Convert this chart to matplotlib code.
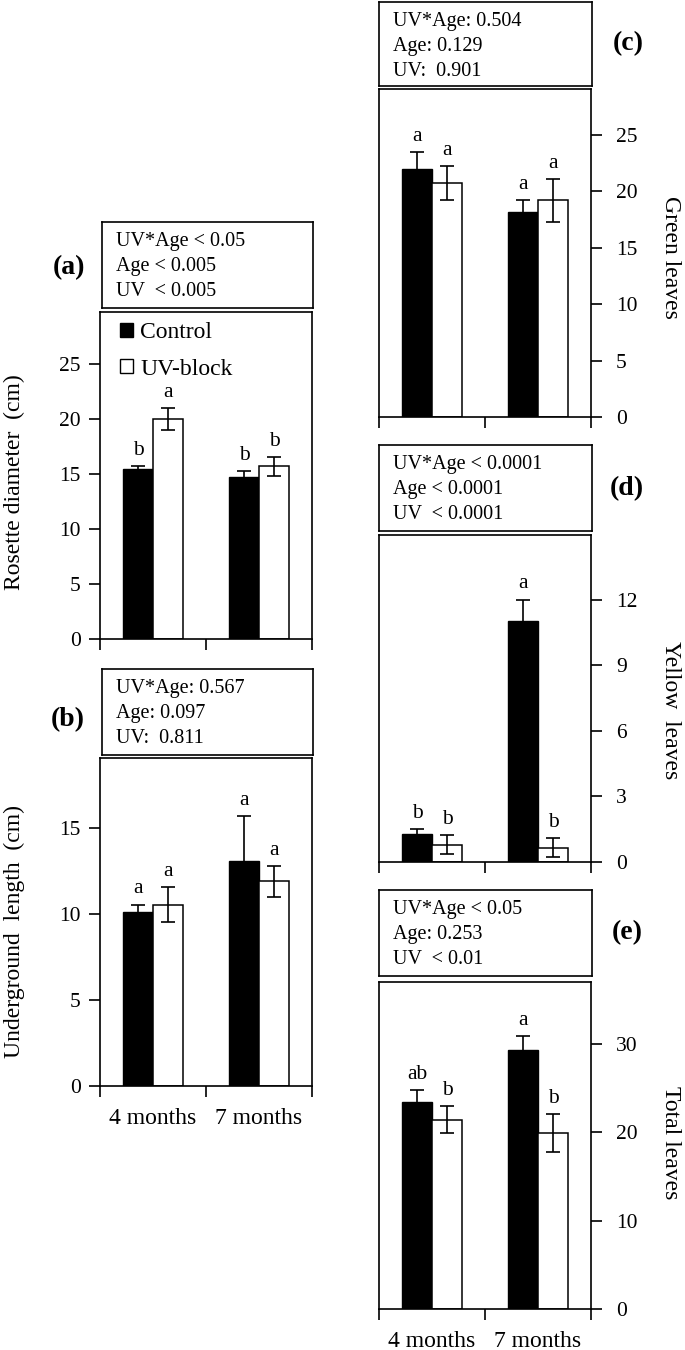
import matplotlib
matplotlib.use("Agg")
import matplotlib.pyplot as plt
from matplotlib.patches import Patch
from matplotlib.transforms import ScaledTranslation
import numpy as np

plt.rcParams['font.family'] = ['Liberation Serif', 'DejaVu Serif']
plt.rcParams['mathtext.default'] = 'regular'

# ---------------- data ----------------
groups = ["4 months", "7 months"]
series_names = ["Control", "UV-block"]

rosette_control = [15.4, 14.7]
rosette_control_err = [0.3, 0.55]
rosette_uvb = [20.0, 15.7]
rosette_uvb_err = [1.0, 0.85]
rosette_letters_control = ["b", "b"]
rosette_letters_uvb = ["a", "b"]

underground_control = [10.1, 13.1]
underground_control_err = [0.45, 2.6]
underground_uvb = [10.55, 11.9]
underground_uvb_err = [1.0, 0.9]
underground_letters_control = ["a", "a"]
underground_letters_uvb = ["a", "a"]

green_control = [22.0, 18.2]
green_control_err = [1.5, 1.0]
green_uvb = [20.7, 19.2]
green_uvb_err = [1.5, 1.9]
green_letters_control = ["a", "a"]
green_letters_uvb = ["a", "a"]

yellow_control = [1.3, 11.0]
yellow_control_err = [0.2, 1.0]
yellow_uvb = [0.8, 0.65]
yellow_uvb_err = [0.45, 0.43]
yellow_letters_control = ["b", "a"]
yellow_letters_uvb = ["b", "b"]

total_control = [23.4, 29.3]
total_control_err = [1.4, 1.6]
total_uvb = [21.4, 19.9]
total_uvb_err = [1.55, 2.15]
total_letters_control = ["ab", "a"]
total_letters_uvb = ["b", "b"]

stats_a = ["UV*Age < 0.05", "Age < 0.005", "UV  < 0.005"]
stats_b = ["UV*Age: 0.567", "Age: 0.097", "UV:  0.811"]
stats_c = ["UV*Age: 0.504", "Age: 0.129", "UV:  0.901"]
stats_d = ["UV*Age < 0.0001", "Age < 0.0001", "UV  < 0.0001"]
stats_e = ["UV*Age < 0.05", "Age: 0.253", "UV  < 0.01"]

# ---------------- layout helpers ----------------
W, H = 685, 1350
fig = plt.figure(figsize=(W / 100, H / 100), dpi=100)


def rect(l, t, r, b):
    return [l / W, 1 - b / H, (r - l) / W, (b - t) / H]


LW = 1.2
BAR_W = 0.283


def stats_box(l, t, r, b, lines):
    ax = fig.add_axes(rect(l, t, r, b))
    ax.set_xticks([])
    ax.set_yticks([])
    for s in ax.spines.values():
        s.set_linewidth(LW)
    h = b - t
    for i, line in enumerate(lines):
        y = 1 - (19.5 + 25 * i) / h
        ax.text(14 / (r - l), y, line, transform=ax.transAxes,
                ha='left', va='center', fontsize=14.5)
    return ax


def bar_panel(box, ymax, yticks, ylabel, ctrl, ctrl_err, uvb, uvb_err,
              let_c, let_u, side='left', xlabels=False, label_xy=(-0.41, 0.48)):
    ax = fig.add_axes(rect(*box))
    x = np.arange(len(groups)) + 0.5
    xc = x - BAR_W / 2
    xu = x + BAR_W / 2
    ax.bar(xc, ctrl, BAR_W, color='black', edgecolor='black', linewidth=1.0,
           yerr=ctrl_err, error_kw=dict(ecolor='black', elinewidth=1.2,
                                        capsize=5, capthick=1.2), zorder=2)
    ax.bar(xu, uvb, BAR_W, color='white', edgecolor='black', linewidth=1.1,
           yerr=uvb_err, error_kw=dict(ecolor='black', elinewidth=1.2,
                                       capsize=5, capthick=1.2), zorder=2)
    for xi, v, e, t in zip(xc, ctrl, ctrl_err, let_c):
        ax.annotate(t, (xi, v + e), xytext=(0, 8), textcoords='offset points',
                    ha='center', va='baseline', fontsize=15.5)
    for xi, v, e, t in zip(xu, uvb, uvb_err, let_u):
        ax.annotate(t, (xi, v + e), xytext=(0, 8), textcoords='offset points',
                    ha='center', va='baseline', fontsize=15.5)
    ax.set_xlim(0, len(groups))
    ax.set_ylim(0, ymax)
    ax.set_yticks(yticks)
    ax.set_xticks(np.arange(len(groups) + 1))
    ax.set_xticklabels([])
    if xlabels:
        ax.set_xticks(x, minor=True)
        ax.set_xticklabels(groups, minor=True, fontsize=17)
        shift = ScaledTranslation(-5 / 100, 0, fig.dpi_scale_trans)
        for lab in ax.get_xticklabels(minor=True):
            lab.set_transform(lab.get_transform() + shift)
    ax.tick_params(axis='x', which='major', direction='out', length=8,
                   width=LW)
    ax.tick_params(axis='x', which='minor', length=0, pad=16)
    for s in ax.spines.values():
        s.set_linewidth(LW)
    if side == 'left':
        ax.tick_params(axis='y', direction='out', length=8, width=LW,
                       labelsize=15.5, pad=6)
        ax.set_ylabel(ylabel, fontsize=17)
        ax.yaxis.label.set_rotation_mode('anchor')
        ax.yaxis.label.set_ha('center')
        ax.yaxis.label.set_va('center')
        ax.yaxis.set_label_coords(*label_xy)
    else:
        ax.yaxis.tick_right()
        ax.tick_params(axis='y', direction='out', length=8, width=LW,
                       labelsize=15.5, pad=10, left=False, right=True)
        ax.yaxis.set_label_position('right')
        ax.set_ylabel(ylabel, fontsize=17, rotation=270)
        ax.yaxis.label.set_rotation_mode('anchor')
        ax.yaxis.label.set_ha('center')
        ax.yaxis.label.set_va('center')
        ax.yaxis.set_label_coords(*label_xy)
    return ax


# ---------------- panel (a) ----------------
stats_box(102, 222, 313, 308, stats_a)
ax_a = bar_panel((100, 312, 312, 639), 29.7, [0, 5, 10, 15, 20, 25],
                 "Rosette diameter  (cm)",
                 rosette_control, rosette_control_err, rosette_uvb, rosette_uvb_err,
                 rosette_letters_control, rosette_letters_uvb,
                 side='left', label_xy=(-0.405, 0.479))
handles = [Patch(facecolor='black', edgecolor='black', linewidth=1.0),
           Patch(facecolor='white', edgecolor='black', linewidth=1.0)]
ax_a.legend(handles, series_names, loc='upper left', bbox_to_anchor=(0.094, 0.969),
            frameon=False, fontsize=17, handlelength=0.55, handleheight=0.55,
            handletextpad=0.3, labelspacing=0.66, borderaxespad=0, borderpad=0)

# ---------------- panel (b) ----------------
stats_box(102, 669, 313, 755, stats_b)
bar_panel((100, 758, 312, 1086), 19.07, [0, 5, 10, 15],
          "Underground  length  (cm)",
          underground_control, underground_control_err, underground_uvb,
          underground_uvb_err, underground_letters_control,
          underground_letters_uvb, side='left', xlabels=True,
          label_xy=(-0.405, 0.47))

# ---------------- panel (c) ----------------
stats_box(379, 2, 592, 86, stats_c)
bar_panel((379, 89, 591, 417), 29.05, [0, 5, 10, 15, 20, 25],
          "Green leaves",
          green_control, green_control_err, green_uvb, green_uvb_err,
          green_letters_control, green_letters_uvb, side='right',
          label_xy=(1.375, 0.485))

# ---------------- panel (d) ----------------
stats_box(379, 445, 592, 531, stats_d)
bar_panel((379, 535, 591, 862), 14.95, [0, 3, 6, 9, 12],
          "Yellow  leaves",
          yellow_control, yellow_control_err, yellow_uvb, yellow_uvb_err,
          yellow_letters_control, yellow_letters_uvb, side='right',
          label_xy=(1.375, 0.465))

# ---------------- panel (e) ----------------
stats_box(379, 890, 592, 976, stats_e)
bar_panel((379, 982, 591, 1309), 36.98, [0, 10, 20, 30],
          "Total leaves",
          total_control, total_control_err, total_uvb, total_uvb_err,
          total_letters_control, total_letters_uvb, side='right', xlabels=True,
          label_xy=(1.375, 0.5075))

# ---------------- panel letters ----------------
for lab, (px, py) in {"(a)": (69, 268), "(b)": (68, 720), "(c)": (628, 44),
                      "(d)": (627, 489), "(e)": (627, 933)}.items():
    fig.text(px / W, 1 - py / H, lab, ha='center', va='center',
             fontsize=20, fontweight='bold')

fig.savefig("out.png", dpi=100)
